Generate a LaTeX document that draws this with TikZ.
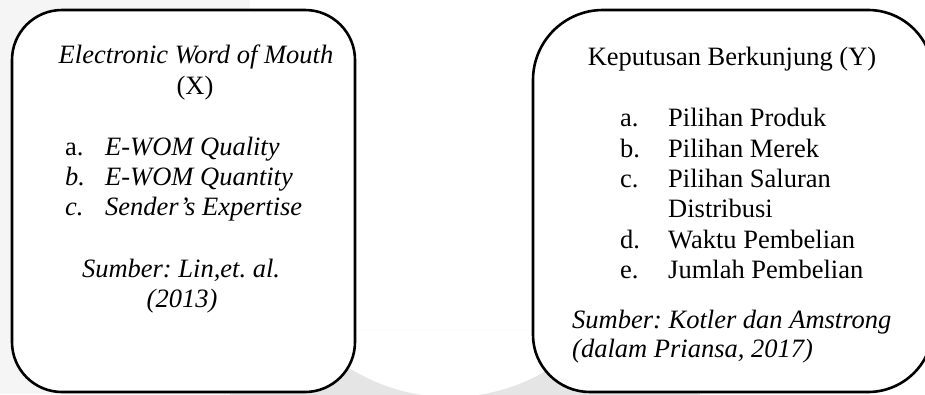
\documentclass[tikz,border=0pt]{standalone}
\usepackage{fontspec}
\setmainfont{Liberation Serif}
\frenchspacing
\begin{document}
\begin{tikzpicture}[x=1pt,y=-1pt,
  boxline/.style={draw=black,line width=2.6pt,fill=white},
  txt/.style={inner sep=0pt,anchor=base west,font=\fontsize{26.5}{30.5}\selectfont\frenchspacing},
  ctxt/.style={inner sep=0pt,anchor=base,font=\fontsize{26.5}{30.5}\selectfont\frenchspacing}]
\useasboundingbox (0,0) rectangle (925,394);
\begin{scope}
\clip (0,0) rectangle (925,394);
\fill[white] (0,0) rectangle (925,394);
\fill[black!4] (0,0) rectangle (250,394);
\begin{scope}
\clip (230,330) rectangle (700,400);
\fill[black!10,even odd rule] (230,330) rectangle (700,400) (450,207) circle (190pt);
\end{scope}
% left box
\path[boxline] (12,200) [rounded corners=50pt] -- (12,10) -- (355,10) -- (355,392) -- (12,392) -- cycle;
% right box
\path[boxline] (533,200) [rounded corners=70pt] -- (533,10) -- (700,10)
  [rounded corners=65pt] -- (933,10) -- (933,392) -- (700,392)
  [rounded corners=57pt] -- (533,392) -- cycle;
\end{scope}
% left box text
\node[ctxt] (lt1) at (196,63) {\itshape Electronic Word of Mouth};
\node[ctxt] (lt2) at (195,94) {(X)};
\node[txt] (la) at (65,155) {a.};
\node[txt] (lai) at (105,155) {\itshape E-WOM Quality};
\node[txt] (lb) at (65,185) {\itshape b.};
\node[txt] (lbi) at (105,185) {\itshape E-WOM Quantity};
\node[txt] (lc) at (65,215) {\itshape c.};
\node[txt] (lci) at (105,215) {\itshape Sender’s Expertise};
\node[ctxt] (ls1) at (181,277) {\itshape Sumber: Lin,et. al.};
\node[ctxt] (ls2) at (182,307) {\itshape (2013)};
% right box text
\node[ctxt] (rt1) at (732,65) {Keputusan Berkunjung (Y)};
\node[txt] (ra) at (620,126) {a.};
\node[txt] (rai) at (668,126) {Pilihan Produk};
\node[txt] (rb) at (620,157) {b.};
\node[txt] (rbi) at (668,157) {Pilihan Merek};
\node[txt] (rc) at (620,187) {c.};
\node[txt] (rci) at (668,187) {Pilihan Saluran};
\node[txt] (rci2) at (668,217) {Distribusi};
\node[txt] (rd) at (620,248) {d.};
\node[txt] (rdi) at (668,248) {Waktu Pembelian};
\node[txt] (re) at (620,278) {e.};
\node[txt] (rei) at (668,278) {Jumlah Pembelian};
\node[txt] (rs1) at (572,328) {\itshape Sumber: Kotler dan Amstrong};
\node[txt] (rs2) at (572,357) {\itshape (dalam Priansa, 2017)};
\end{tikzpicture}
\end{document}
